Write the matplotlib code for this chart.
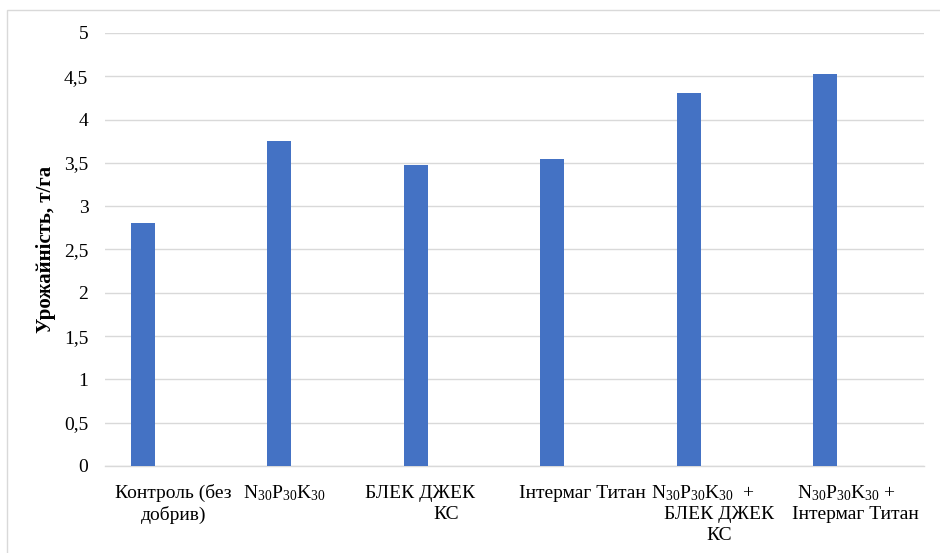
import numpy as np
import matplotlib.pyplot as plt
from matplotlib.ticker import FuncFormatter
from matplotlib.patches import Rectangle

plt.rcParams['font.family'] = ['Liberation Serif', 'DejaVu Serif']
plt.rcParams['mathtext.fontset'] = 'custom'
plt.rcParams['mathtext.rm'] = 'Liberation Serif'
plt.rcParams['mathtext.it'] = 'Liberation Serif:italic'

npk = r'N$_{30}$P$_{30}$K$_{30}$'

# category labels, one list of lines per category
labels = [
    ['Контроль (без', 'добрив)'],
    [npk],
    ['БЛЕК ДЖЕК', 'КС'],
    ['Інтермаг Титан'],
    [npk + '  +', 'БЛЕК ДЖЕК', 'КС'],
    [npk + ' +', 'Інтермаг Титан'],
]
yields = [2.81, 3.75, 3.48, 3.55, 4.31, 4.53]
y_ticks = [0, 0.5, 1, 1.5, 2, 2.5, 3, 3.5, 4, 4.5, 5]


def comma(v, pos):
    s = ('%g' % v)
    return s.replace('.', ',')


def main():
    fig = plt.figure(figsize=(9.4, 5.53), dpi=100)
    ax = fig.add_axes([105 / 940, 1 - 466 / 553, 819 / 940, 433 / 553])

    x = np.arange(len(yields))
    ax.bar(x - 0.222, yields, width=0.176, color='#4472C4', zorder=3)

    ax.set_xlim(-0.5, len(yields) - 0.5)
    ax.set_ylim(0, 5)
    ax.set_yticks(y_ticks)
    ax.yaxis.set_major_formatter(FuncFormatter(comma))
    ax.grid(axis='y', color='#d9d9d9', linewidth=1.0, zorder=0)
    ax.tick_params(axis='y', length=0, pad=12, labelsize=14)
    ax.set_xticks([])
    for side in ['top', 'right', 'left']:
        ax.spines[side].set_visible(False)
    ax.spines['bottom'].set_color('#d9d9d9')
    ax.spines['bottom'].set_linewidth(1.0)

    # multi-line category labels (per-line horizontal shift in pixels)
    shifts = [[0, 0], [-25], [-26, 0], [0], [-16, 0, 0], [-9, 0]]
    for i, lines in enumerate(labels):
        for j, line in enumerate(lines):
            ax.annotate(line, xy=(i, 0), xycoords='data',
                        xytext=(shifts[i][j], -27 - 21.5 * j), textcoords='offset pixels',
                        ha='center', va='center', fontsize=14)

    ax.set_ylabel('Урожайність, т/га', fontsize=15, fontweight='bold', labelpad=5.5)

    # chart border (cropped on right and bottom)
    fig.patches.append(Rectangle((7 / 940, -0.1), 1.2, 1 - 10 / 553 + 0.1,
                                 transform=fig.transFigure, fill=False,
                                 edgecolor='#d9d9d9', linewidth=1.0))

    fig.savefig('out.png', dpi=100)


if __name__ == '__main__':
    main()
